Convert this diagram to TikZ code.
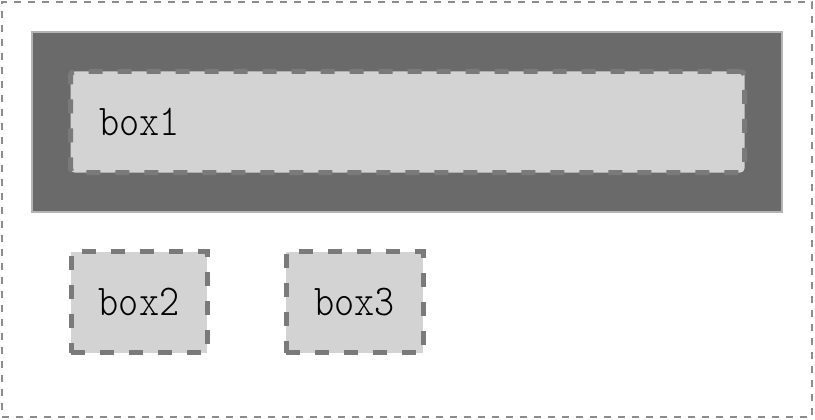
\documentclass[tikz,border=0pt]{standalone}
\usepackage{fontspec}
\newfontfamily\boxfont[FakeStretch=0.87]{Latin Modern Mono Light}
\definecolor{panelgray}{HTML}{6A6A6A}
\definecolor{paneledge}{HTML}{B4B4B4}
\definecolor{boxfill}{HTML}{D3D3D3}
\definecolor{boxedge}{HTML}{7A7A7A}
\definecolor{frameedge}{HTML}{8C8C8C}
\begin{document}
\begin{tikzpicture}[x=1pt,y=-1pt,
        box/.style={rectangle,fill=boxfill,draw=boxedge,line width=5pt,
            dash pattern=on 14pt off 15pt,minimum height=101pt,inner sep=0pt,
            font=\boxfont\fontsize{44}{46}\selectfont}]
        \useasboundingbox (0,0) rectangle (815,420);
        % outer frame
        \node[draw=frameedge,line width=1.5pt,dash pattern=on 7pt off 7pt,
            minimum width=810pt,minimum height=415pt,inner sep=0pt] (frame) at (407,209.5) {};
        % panel
        \node[fill=panelgray,draw=paneledge,line width=2pt,
            minimum width=750pt,minimum height=180pt,inner sep=0pt] (panel) at (407,122) {};

        % boxes
        \node[box,rounded corners=4pt,text width=617pt,inner xsep=28.5pt,align=left] (box1) at (407.5,122) {box1};
        \node[box,minimum width=136pt] (box2) at (139,302) {box2};
        \node[box,minimum width=137pt] (box3) at (354.5,302) {box3};
    \end{tikzpicture}
\end{document}
